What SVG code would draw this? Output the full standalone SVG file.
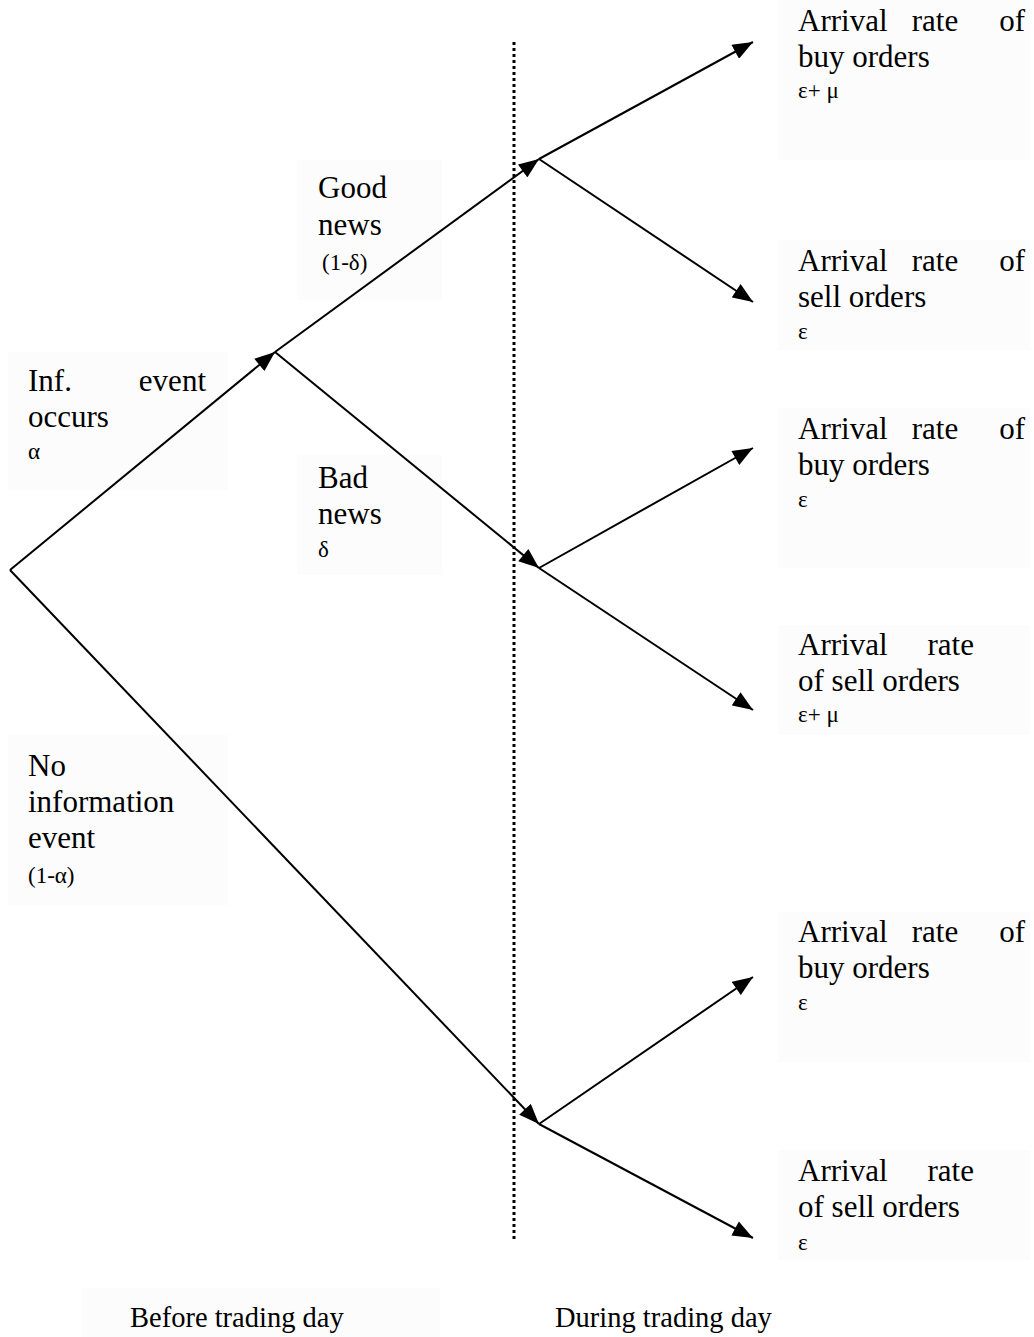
<svg xmlns="http://www.w3.org/2000/svg" width="1034" height="1337" viewBox="0 0 1034 1337">
<style>
text{font-family:"Liberation Serif","Times New Roman",serif;fill:#000;font-size:31px}
text.s{font-size:23px}
text.b{font-size:28.5px}
.bg{fill:#fcfcfc}
.c{stroke:#000;stroke-width:2;fill:none;marker-end:url(#ah)}
</style>
<defs>
<marker id="ah" markerUnits="userSpaceOnUse" markerWidth="22" markerHeight="16" refX="19" refY="7.5" orient="auto" viewBox="0 0 20 15">
<path d="M0,0 L19,7.5 L0,15 Z" fill="#000"/>
</marker>
</defs>
<rect width="1034" height="1337" fill="#fff"/>
<g id="backgrounds">
<rect class="bg" x="8" y="352" width="220" height="138"/>
<rect class="bg" x="8" y="735" width="220" height="170"/>
<rect class="bg" x="297" y="160" width="145" height="140"/>
<rect class="bg" x="297" y="455" width="145" height="120"/>
<rect class="bg" x="778" y="0" width="252" height="160"/>
<rect class="bg" x="778" y="240" width="252" height="110"/>
<rect class="bg" x="778" y="408" width="252" height="160"/>
<rect class="bg" x="778" y="625" width="252" height="110"/>
<rect class="bg" x="778" y="912" width="252" height="150"/>
<rect class="bg" x="778" y="1150" width="252" height="110"/>
<rect class="bg" x="82" y="1288" width="358" height="49"/>
</g>
<g id="connectors">
<line x1="514" y1="42" x2="514" y2="1242" stroke="#000" stroke-width="3" stroke-dasharray="3,3"/>
<line class="c" x1="10" y1="570" x2="275" y2="352"/>
<line class="c" x1="10" y1="570" x2="539" y2="1124"/>
<line class="c" x1="275" y1="352" x2="539" y2="159"/>
<line class="c" x1="275" y1="352" x2="539" y2="568"/>
<line class="c" x1="539" y1="159" x2="753" y2="42"/>
<line class="c" x1="539" y1="159" x2="753" y2="302"/>
<line class="c" x1="539" y1="568" x2="753" y2="448"/>
<line class="c" x1="539" y1="568" x2="753" y2="710"/>
<line class="c" x1="539" y1="1124" x2="753" y2="977"/>
<line class="c" x1="539" y1="1124" x2="753" y2="1238"/>
</g>
<g id="node-inf">
<text x="28" y="391">Inf.</text><text x="206" y="391" text-anchor="end">event</text>
<text x="28" y="427">occurs</text>
<text class="s" x="28" y="459">α</text>
</g>
<g id="node-noinfo">
<text x="28" y="776">No</text>
<text x="28" y="812">information</text>
<text x="28" y="848">event</text>
<text class="s" x="28" y="883">(1-α)</text>
</g>
<g id="node-good">
<text x="318" y="198">Good</text>
<text x="318" y="235">news</text>
<text class="s" x="322" y="270">(1-δ)</text>
</g>
<g id="node-bad">
<text x="318" y="488">Bad</text>
<text x="318" y="524">news</text>
<text class="s" x="318" y="557">δ</text>
</g>
<g id="node-r1">
<text x="798" y="31">Arrival</text><text x="935" y="31" text-anchor="middle">rate</text><text x="1025" y="31" text-anchor="end">of</text>
<text x="798" y="67">buy orders</text>
<text class="s" x="798" y="98">ε+ μ</text>
</g>
<g id="node-r2">
<text x="798" y="271">Arrival</text><text x="935" y="271" text-anchor="middle">rate</text><text x="1025" y="271" text-anchor="end">of</text>
<text x="798" y="307">sell orders</text>
<text class="s" x="798" y="339">ε</text>
</g>
<g id="node-r3">
<text x="798" y="439">Arrival</text><text x="935" y="439" text-anchor="middle">rate</text><text x="1025" y="439" text-anchor="end">of</text>
<text x="798" y="475">buy orders</text>
<text class="s" x="798" y="507">ε</text>
</g>
<g id="node-r4">
<text x="798" y="655">Arrival</text><text x="974" y="655" text-anchor="end">rate</text>
<text x="798" y="691">of sell orders</text>
<text class="s" x="798" y="722">ε+ μ</text>
</g>
<g id="node-r5">
<text x="798" y="942">Arrival</text><text x="935" y="942" text-anchor="middle">rate</text><text x="1025" y="942" text-anchor="end">of</text>
<text x="798" y="978">buy orders</text>
<text class="s" x="798" y="1010">ε</text>
</g>
<g id="node-r6">
<text x="798" y="1181">Arrival</text><text x="974" y="1181" text-anchor="end">rate</text>
<text x="798" y="1217">of sell orders</text>
<text class="s" x="798" y="1250">ε</text>
</g>
<g id="labels">
<text class="b" x="130" y="1327">Before trading day</text>
<text class="b" x="555" y="1327">During trading day</text>
</g>
</svg>
